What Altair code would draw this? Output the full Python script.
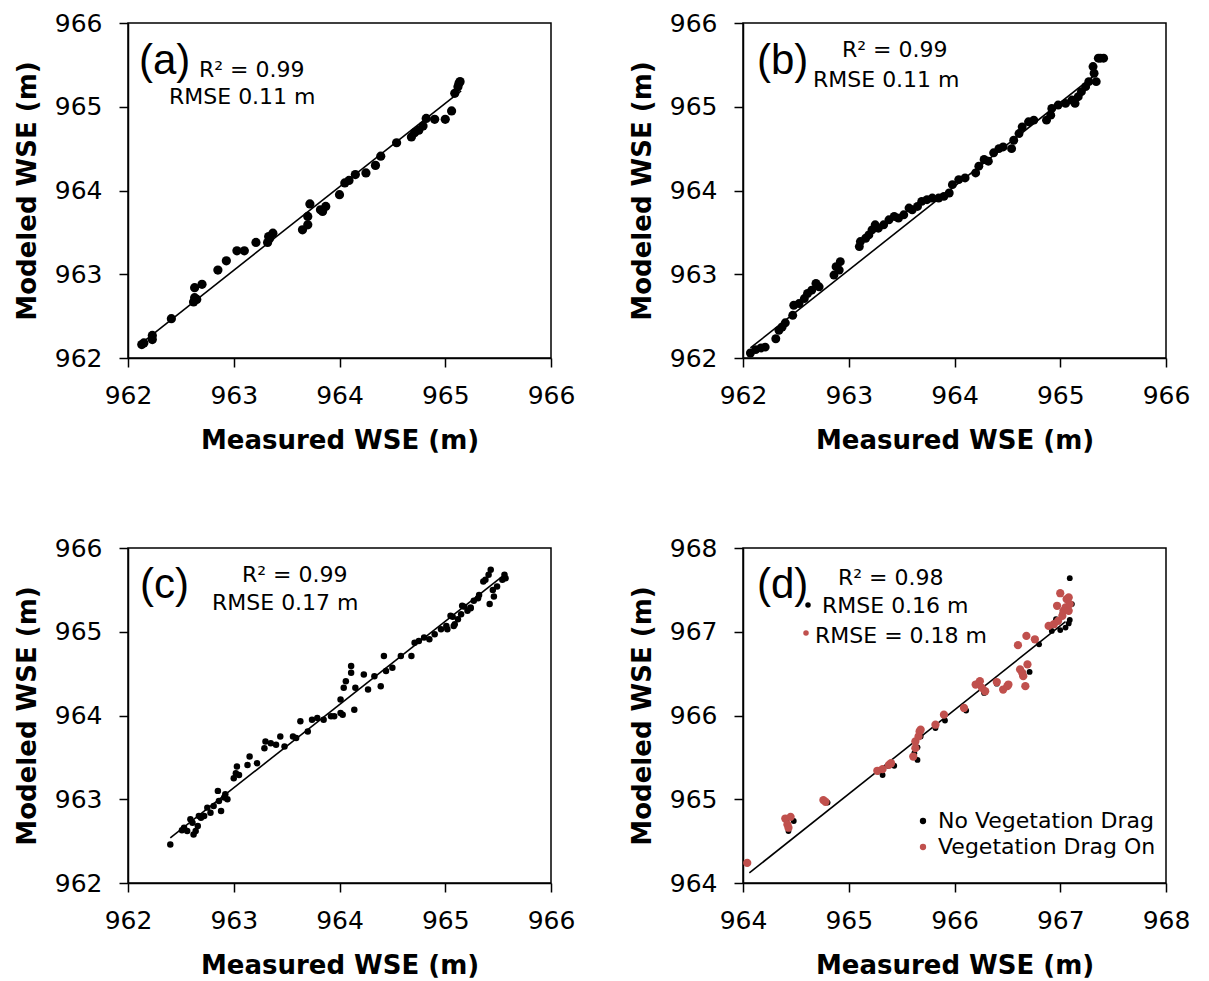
import altair as alt
import pandas as pd

# ---------------- data ----------------
a_measured = [962.13, 962.15, 962.23, 962.23, 962.41, 962.62, 962.63, 962.65, 962.63, 962.70,
              962.85, 962.93, 963.03, 963.10, 963.21, 963.32, 963.33, 963.37, 963.34,
              963.65, 963.70, 963.70, 963.72, 963.82, 963.87, 963.84, 964.00, 964.05, 964.09,
              964.15, 964.25, 964.34, 964.39, 964.54, 964.68, 964.71, 964.75, 964.79, 964.82,
              964.90, 965.00, 965.06, 965.09, 965.13, 965.14, 965.12]
a_modeled = [962.16, 962.18, 962.22, 962.27, 962.47, 962.67, 962.72, 962.70, 962.84, 962.88,
             963.05, 963.16, 963.28, 963.28, 963.38, 963.38, 963.45, 963.49, 963.43,
             963.53, 963.59, 963.69, 963.84, 963.77, 963.81, 963.75, 963.95, 964.09, 964.12,
             964.19, 964.21, 964.30, 964.41, 964.57, 964.64, 964.69, 964.72, 964.77, 964.86,
             964.85, 964.85, 964.95, 965.16, 965.28, 965.30, 965.24]
a_fit_measured = [962.12, 965.15]
a_fit_modeled = [962.17, 965.19]

b_measured = [962.07, 962.12, 962.17, 962.21, 962.31, 962.34, 962.37, 962.40, 962.47, 962.48,
              962.53, 962.58, 962.61, 962.65, 962.69, 962.72, 962.86, 962.88, 962.92, 962.91,
              963.10, 963.11, 963.16, 963.19, 963.22, 963.25, 963.28, 963.33, 963.38, 963.43,
              963.47, 963.52, 963.57, 963.60, 963.65, 963.69, 963.74, 963.79, 963.85, 963.90,
              963.95, 963.98, 964.04, 964.10, 964.20, 964.23, 964.28, 964.32, 964.37, 964.42,
              964.46, 964.54, 964.56, 964.61, 964.64, 964.70, 964.75, 964.87, 964.91, 964.92,
              964.98, 965.05, 965.11, 965.14, 965.17, 965.20, 965.24, 965.27, 965.31, 965.32,
              965.34, 965.36, 965.38, 965.41]
b_modeled = [962.06, 962.10, 962.12, 962.13, 962.23, 962.33, 962.37, 962.42, 962.51, 962.63,
             962.65, 962.71, 962.77, 962.81, 962.89, 962.85, 962.99, 963.09, 963.15, 963.05,
             963.33, 963.39, 963.43, 963.47, 963.53, 963.59, 963.55, 963.59, 963.65, 963.69,
             963.67, 963.71, 963.79, 963.77, 963.81, 963.87, 963.89, 963.91, 963.91, 963.93,
             963.97, 964.07, 964.13, 964.15, 964.21, 964.29, 964.37, 964.35, 964.45, 964.50,
             964.52, 964.50, 964.60, 964.68, 964.76, 964.82, 964.84, 964.84, 964.90, 964.98,
             965.02, 965.04, 965.08, 965.04, 965.12, 965.18, 965.24, 965.30, 965.48, 965.40,
             965.30, 965.58, 965.58, 965.58]
b_fit_measured = [962.07, 965.33]
b_fit_modeled = [962.12, 965.38]

c_measured = [962.40, 962.51, 962.53, 962.56, 962.59, 962.61, 962.62, 962.64, 962.66, 962.67,
              962.69, 962.72, 962.75, 962.78, 962.81, 962.85, 962.86, 962.88, 962.91, 962.92,
              962.94, 963.00, 963.02, 963.03, 963.05, 963.13, 963.15, 963.22, 963.29, 963.30,
              963.35, 963.40, 963.44, 963.48, 963.56, 963.59, 963.63, 963.70, 963.74, 963.79,
              963.85, 963.92, 963.95, 964.01, 964.03, 964.01, 964.04, 964.06, 964.11, 964.11,
              964.14, 964.15, 964.23, 964.27, 964.33, 964.39, 964.42, 964.44, 964.50, 964.58,
              964.68, 964.71, 964.75, 964.80, 964.85, 964.90, 964.96, 965.01, 965.05, 965.09,
              965.12, 965.16, 965.21, 965.24, 965.27, 965.32, 965.43, 965.41, 965.38, 965.36,
              965.56, 965.57, 965.54, 965.49, 965.46, 965.42, 965.45, 965.31, 965.24, 965.18,
              965.15, 965.07, 965.08, 965.02]
c_modeled = [962.46, 962.63, 962.66, 962.62, 962.76, 962.72, 962.58, 962.62, 962.68, 962.80,
             962.78, 962.80, 962.90, 962.84, 962.92, 963.10, 962.98, 962.86, 963.02, 963.06,
             963.00, 963.25, 963.31, 963.39, 963.29, 963.41, 963.51, 963.43, 963.61, 963.69,
             963.67, 963.65, 963.75, 963.63, 963.75, 963.73, 963.93, 963.81, 963.95, 963.97,
             963.95, 963.99, 963.99, 964.03, 964.01, 964.19, 964.33, 964.41, 964.51, 964.59,
             964.07, 964.33, 964.49, 964.31, 964.47, 964.35, 964.71, 964.53, 964.57, 964.71,
             964.71, 964.87, 964.89, 964.93, 964.91, 964.97, 965.03, 965.07, 965.19, 965.09,
             965.15, 965.31, 965.25, 965.29, 965.37, 965.44, 965.74, 965.68, 965.62, 965.60,
             965.68, 965.64, 965.62, 965.54, 965.42, 965.33, 965.50, 965.40, 965.28, 965.30,
             965.21, 965.18, 965.07, 965.03]
c_fit_measured = [962.40, 965.54]
c_fit_modeled = [962.54, 965.66]

d_noveg_measured = [964.04, 964.43, 964.48, 964.41, 964.80, 965.28, 965.32, 965.37, 965.43,
                    965.62, 965.65, 965.65, 965.68, 965.82, 965.91, 966.11, 966.22, 966.28,
                    966.40, 966.49, 966.64, 966.71, 966.80, 966.92, 966.96, 967.00, 967.02,
                    967.05, 967.08, 967.09, 967.11, 967.09]
d_noveg_modeled = [964.24, 964.62, 964.74, 964.75, 964.96, 965.33, 965.29, 965.40, 965.40,
                   965.55, 965.47, 965.62, 965.75, 965.85, 965.94, 966.06, 966.39, 966.27,
                   966.38, 966.34, 966.50, 966.52, 966.85, 967.01, 967.15, 967.02, 967.22,
                   967.05, 967.10, 967.64, 967.33, 967.14]
d_veg_measured = [964.04, 964.40, 964.45, 964.42, 964.43, 964.76, 964.78, 965.27, 965.32, 965.38,
                  965.40, 965.61, 965.63, 965.63, 965.66, 965.67, 965.68, 965.82, 965.90, 966.09,
                  966.20, 966.24, 966.26, 966.29, 966.40, 966.46, 966.50, 966.51, 966.60, 966.62,
                  966.64, 966.65, 966.67, 966.68, 966.69, 966.76, 966.89, 966.94, 966.97, 966.98,
                  967.00, 967.02, 967.03, 967.05, 967.06, 967.08, 967.09, 967.08]
d_veg_modeled = [964.24, 964.77, 964.79, 964.70, 964.66, 964.99, 964.97, 965.34, 965.36, 965.41,
                 965.43, 965.51, 965.61, 965.69, 965.75, 965.81, 965.83, 965.89, 966.01, 966.09,
                 966.37, 966.41, 966.33, 966.29, 966.40, 966.31, 966.35, 966.37, 966.84, 966.55,
                 966.51, 966.47, 966.35, 966.95, 966.61, 966.91, 967.07, 967.09, 967.31, 967.13,
                 967.46, 967.19, 967.25, 967.29, 967.39, 967.25, 967.33, 967.41]
d_fit_measured = [964.06, 967.05]
d_fit_modeled = [964.12, 967.12]

series_names = ["No Vegetation Drag", "Vegetation Drag On"]
series_colors = ["#000000", "#c0504d"]

ticks_ab = [962, 963, 964, 965, 966]
ticks_d = [964, 965, 966, 967, 968]

# ---------------- styling ----------------
W, H = 423, 335
FONT = "DejaVu Sans"
NARROW = "Liberation Sans Narrow, Liberation Sans, Arial, sans-serif"


def axis(ticks, title):
    return alt.Axis(values=ticks, format="d", title=title, grid=False,
                    labelFlush=False, labelOverlap=False)


def text_layer(txt, px, py, size=22, font=FONT, color="black"):
    return alt.Chart(alt.Data(values=[{}])).mark_text(
        text=txt, align="left", baseline="alphabetic", font=font,
        fontSize=size, color=color
    ).encode(x=alt.value(px), y=alt.value(py))


def dot_layer(px, py, color, size=30):
    return alt.Chart(alt.Data(values=[{}])).mark_circle(
        color=color, opacity=1, size=size
    ).encode(x=alt.value(px), y=alt.value(py))


def encs(ticks):
    dom = [ticks[0], ticks[-1]]
    xenc = alt.X("measured:Q", scale=alt.Scale(domain=dom, nice=False, zero=False),
                 axis=axis(ticks, "Measured WSE (m)"))
    yenc = alt.Y("modeled:Q", scale=alt.Scale(domain=dom, nice=False, zero=False),
                 axis=axis(ticks, "Modeled WSE (m)"))
    return xenc, yenc


def fit_layer(fx, fy, xenc, yenc):
    return alt.Chart(pd.DataFrame({"measured": fx, "modeled": fy})).mark_line(
        color="black", strokeWidth=1.6).encode(x=xenc, y=yenc)


def panel(mx, my, fx, fy, ticks, size, texts):
    xenc, yenc = encs(ticks)
    pts = alt.Chart(pd.DataFrame({"measured": mx, "modeled": my})).mark_circle(
        color="black", opacity=1, size=size).encode(x=xenc, y=yenc)
    return alt.layer(fit_layer(fx, fy, xenc, yenc), pts, *texts).properties(width=W, height=H)


pa = panel(a_measured, a_modeled, a_fit_measured, a_fit_modeled, ticks_ab, 85, [
    text_layer("(a)", 11, 51, size=42, font=NARROW),
    text_layer("R\u00b2 = 0.99", 71, 54),
    text_layer("RMSE 0.11  m", 41, 81),
])

pb = panel(b_measured, b_modeled, b_fit_measured, b_fit_modeled, ticks_ab, 80, [
    text_layer("(b)", 14, 51, size=42, font=NARROW),
    text_layer("R\u00b2 = 0.99", 99, 34),
    text_layer("RMSE 0.11  m", 70, 64),
])

pc = panel(c_measured, c_modeled, c_fit_measured, c_fit_modeled, ticks_ab, 42, [
    text_layer("(c)", 12, 50, size=42, font=NARROW),
    text_layer("R\u00b2 = 0.99", 114, 34),
    text_layer("RMSE 0.17  m", 84, 62),
])

# panel d
xd, yd = encs(ticks_d)
color_scale = alt.Scale(domain=series_names, range=series_colors)
legend = alt.Legend(title=None, orient="none", legendX=169, legendY=262,
                    labelFontSize=22, labelFont=FONT, labelColor="black", labelLimit=0,
                    symbolType="circle", symbolSize=40, symbolStrokeWidth=0,
                    labelOffset=4, rowPadding=4, padding=0)
noveg = alt.Chart(pd.DataFrame({"measured": d_noveg_measured, "modeled": d_noveg_modeled,
                                "series": series_names[0]})).mark_circle(
    opacity=1, size=34).encode(x=xd, y=yd,
                               color=alt.Color("series:N", scale=color_scale, legend=legend))
veg = alt.Chart(pd.DataFrame({"measured": d_veg_measured, "modeled": d_veg_modeled,
                              "series": series_names[1]})).mark_circle(
    opacity=1, size=68).encode(x=xd, y=yd,
                               color=alt.Color("series:N", scale=color_scale, legend=legend))
pd_ = alt.layer(
    fit_layer(d_fit_measured, d_fit_modeled, xd, yd), noveg, veg,
    text_layer("(d)", 14, 50, size=42, font=NARROW),
    text_layer("R\u00b2 = 0.98", 95, 37),
    dot_layer(65, 57, series_colors[0]),
    text_layer("RMSE 0.16  m", 79, 65),
    dot_layer(63, 85, series_colors[1]),
    text_layer("RMSE = 0.18 m", 72, 95),
).properties(width=W, height=H)

chart = alt.concat(pa, pb, pc, pd_, columns=2, spacing={"row": 190, "column": 192},
                   bounds="flush").resolve_scale(color="independent").resolve_legend(
    color="independent")

chart = chart.properties(padding={"left": 5, "top": 2, "right": 5, "bottom": 5}).configure(
    font=FONT
).configure_view(
    stroke="black", strokeWidth=1.5
).configure_axis(
    labelFont=FONT, labelFontSize=25, labelColor="black",
    titleFont=FONT, titleFontSize=26, titleFontWeight="bold", titleColor="black",
    domainColor="black", domainWidth=1.5,
    tickColor="black", tickWidth=1.5, tickSize=9
).configure_axisX(
    labelPadding=16, titlePadding=19
).configure_axisY(
    labelPadding=17, titlePadding=14
)

chart.save("out.html", embed_options={"renderer": "svg", "actions": False})
